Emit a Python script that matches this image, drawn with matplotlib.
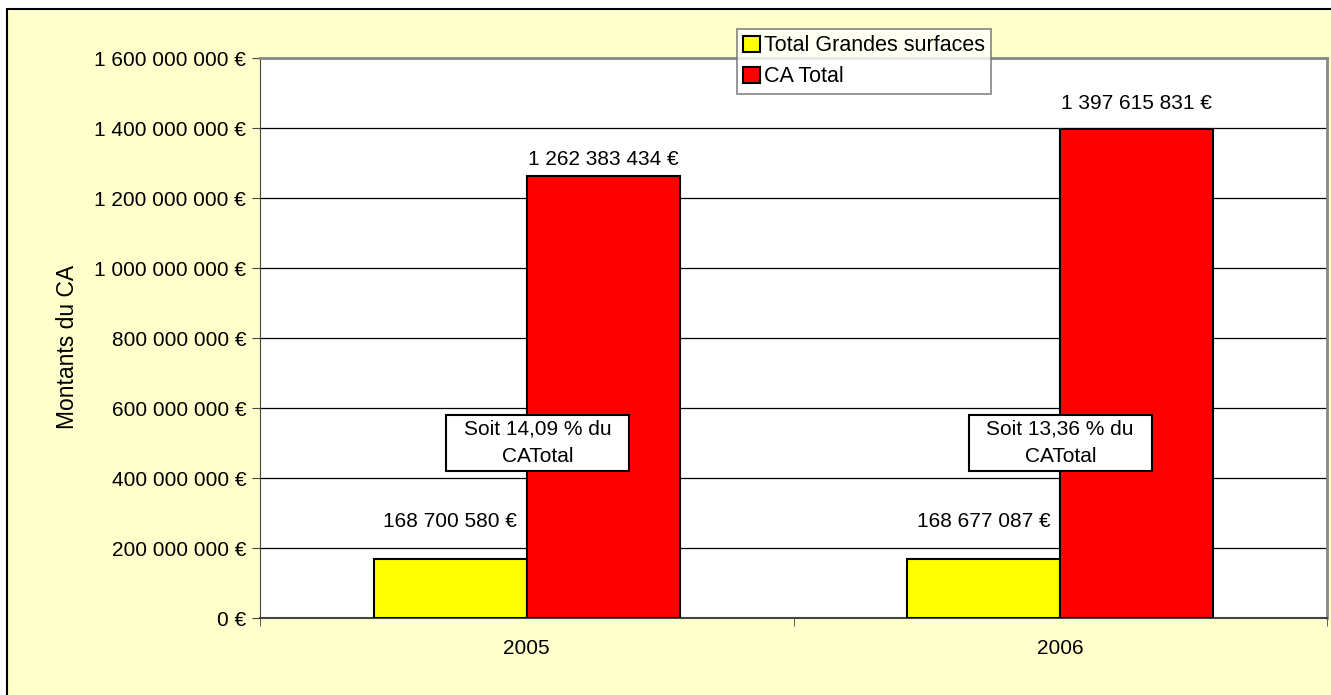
import matplotlib
matplotlib.use("Agg")
import matplotlib.pyplot as plt
from matplotlib.patches import Rectangle
from matplotlib.ticker import FuncFormatter, MultipleLocator, FixedLocator
import numpy as np

annees = ["2005", "2006"]
grandes_surfaces = [168700580, 168677087]
ca_total = [1262383434, 1397615831]
parts = ["14,09", "13,36"]

plt.rcParams["font.family"] = ["Liberation Sans", "DejaVu Sans"]
plt.rcParams["font.size"] = 15


def euros(v, pos=None):
    return f"{v:,.0f} €".replace(",", " ")


W, H = 1331, 695
fig = plt.figure(figsize=(W / 100, H / 100), dpi=100, facecolor="white")

# fond jaune pâle avec cadre noir
fig.patches.append(Rectangle((7 / W, -0.05), 1.1, (H - 9) / H + 0.05,
                             transform=fig.transFigure, facecolor="#FFFFCC",
                             edgecolor="black", linewidth=1.5, zorder=-10))

ax = fig.add_axes([260 / W, 1 - 618 / H, 1067 / W, 560 / H])
ax.set_facecolor("white")

x = np.arange(len(annees))
w = 0.287
b1 = ax.bar(x - w / 2, grandes_surfaces, w, color="#FFFF00", edgecolor="black",
            linewidth=1.5, label="Total Grandes surfaces", zorder=3)
b2 = ax.bar(x + w / 2, ca_total, w, color="#FF0000", edgecolor="black",
            linewidth=1.5, label="CA Total", zorder=3)

# étiquettes de valeurs
for bars, vals, offs in [(b1, grandes_surfaces, [37, 37]), (b2, ca_total, [17, 25])]:
    for bar, v, o in zip(bars, vals, offs):
        ax.annotate(euros(v), (bar.get_x() + bar.get_width() / 2, v),
                    xytext=(0, o), textcoords="offset pixels",
                    ha="center", va="center", zorder=5)

# encadrés pourcentage
for xi, p, dx in zip(x, parts, [0.02, 0.0]):
    ax.text(xi + dx, 5.0e8, f"Soit {p} % du\nCATotal", ha="center", va="center",
            linespacing=1.55, zorder=6,
            bbox=dict(boxstyle="square,pad=0.85", mutation_aspect=0.3,
                      facecolor="white", edgecolor="black", linewidth=1.5))

ax.set_xlim(-0.5, 1.5)
ax.set_ylim(0, 1.6e9)
ax.yaxis.set_major_locator(MultipleLocator(2e8))
ax.yaxis.set_major_formatter(FuncFormatter(euros))
ax.yaxis.grid(True, color="black", linewidth=0.9)
ax.set_axisbelow(True)

ax.set_xticks(x)
ax.set_xticklabels(annees)
ax.xaxis.set_minor_locator(FixedLocator([-0.5, 0.5, 1.5]))
ax.tick_params(axis="x", which="major", length=0, pad=15)
ax.tick_params(axis="x", which="minor", length=6, direction="out", color="#444444")
ax.tick_params(axis="y", length=6, direction="out", pad=4, color="#444444")

ax.spines["left"].set_color("#444444")
ax.spines["bottom"].set_color("#444444")
ax.spines["bottom"].set_linewidth(1.5)
ax.spines["top"].set_color("#888888")
ax.spines["right"].set_color("#888888")
ax.spines["top"].set_linewidth(2)
ax.spines["right"].set_linewidth(2)

fig.text(68 / W, 1 - 347 / H, "Montants du CA", rotation=90, ha="center", va="center",
         fontsize=16.5)

leg = fig.legend(loc="upper left", bbox_to_anchor=(737 / W, 1 - 29 / H),
                 frameon=True, fancybox=False, borderaxespad=0, fontsize=15.5,
                 handlelength=0.75, handleheight=0.75, handletextpad=0.2,
                 labelspacing=0.45, borderpad=0.3)
leg.get_frame().set_edgecolor("#666666")
leg.get_frame().set_linewidth(1.2)

fig.savefig("out.png", dpi=100, facecolor=fig.get_facecolor())
